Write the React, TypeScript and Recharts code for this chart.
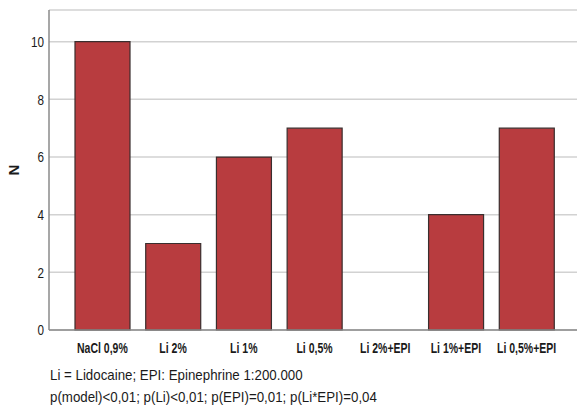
import React from "react";
import { BarChart, Bar, XAxis, YAxis, CartesianGrid, Label } from "recharts";

const categories = ["NaCl 0,9%", "Li 2%", "Li 1%", "Li 0,5%", "Li 2%+EPI", "Li 1%+EPI", "Li 0,5%+EPI"];
const counts = [10, 3, 6, 7, 0, 4, 7];
const yTicks = [0, 2, 4, 6, 8, 10];
const notes = [
  "Li = Lidocaine; EPI: Epinephrine 1:200.000",
  "p(model)<0,01; p(Li)<0,01; p(EPI)=0,01; p(Li*EPI)=0,04",
];

const data = categories.map((c, i) => ({ name: c, n: counts[i] }));
const FONT = "'Liberation Sans', Arial, sans-serif";

const XTick = (props: any) => {
  const { x, y, payload } = props;
  return (
    <g transform={`translate(${x},${y}) scale(0.7,1)`}>
      <text x={0} y={0} dy={15} textAnchor="middle" fill="#1a1a1a" fontSize={15} fontWeight="bold" fontFamily={FONT}>
        {payload.value}
      </text>
    </g>
  );
};

const YTick = (props: any) => {
  const { x, y, payload } = props;
  return (
    <g transform={`translate(${x},${y}) scale(0.78,1)`}>
      <text x={0} y={0} dy="0.36em" textAnchor="end" fill="#1a1a1a" fontSize={15} fontFamily={FONT}>
        {payload.value}
      </text>
    </g>
  );
};

export default function App() {
  return (
    <div style={{ position: "absolute", left: 0, top: 0, width: 577, height: 414, background: "#fff" }}>
      <BarChart width={577} height={355} data={data} margin={{ top: 10, right: 0, left: 0, bottom: 0 }}>
        <CartesianGrid horizontal vertical={false} stroke="#d2d2d2" strokeWidth={1.5} />
        <XAxis
          dataKey="name"
          height={25}
          padding={{ left: 18, right: 15 }}
          tickLine={false}
          axisLine={{ stroke: "#8a8a8a", strokeWidth: 1.5 }}
          interval={0}
          tickMargin={2}
          tick={<XTick />}
        />
        <YAxis
          width={49}
          domain={[0, 11.1]}
          ticks={yTicks}
          tickLine={false}
          tickSize={3}
          tickMargin={2}
          axisLine={{ stroke: "#8a8a8a", strokeWidth: 1.5 }}
          tick={<YTick />}
        >
          <Label
            value="N"
            angle={-90}
            position="insideLeft"
            offset={14}
            style={{ fill: "#1a1a1a", fontSize: 15, fontWeight: "bold", fontFamily: FONT, textAnchor: "middle" }}
          />
        </YAxis>
        <Bar dataKey="n" barSize={55} fill="#b83c3f" stroke="#3a2e2e" strokeWidth={1.2} isAnimationActive={false} />
      </BarChart>
      {notes.map((t, i) => (
        <div
          key={i}
          style={{
            position: "absolute",
            left: 50,
            top: 365 + i * 22,
            fontSize: 15,
            lineHeight: "19px",
            color: "#1a1a1a",
            fontFamily: FONT,
            whiteSpace: "nowrap",
            transform: "scaleX(0.887)",
            transformOrigin: "left top",
          }}
        >
          {t}
        </div>
      ))}
    </div>
  );
}
